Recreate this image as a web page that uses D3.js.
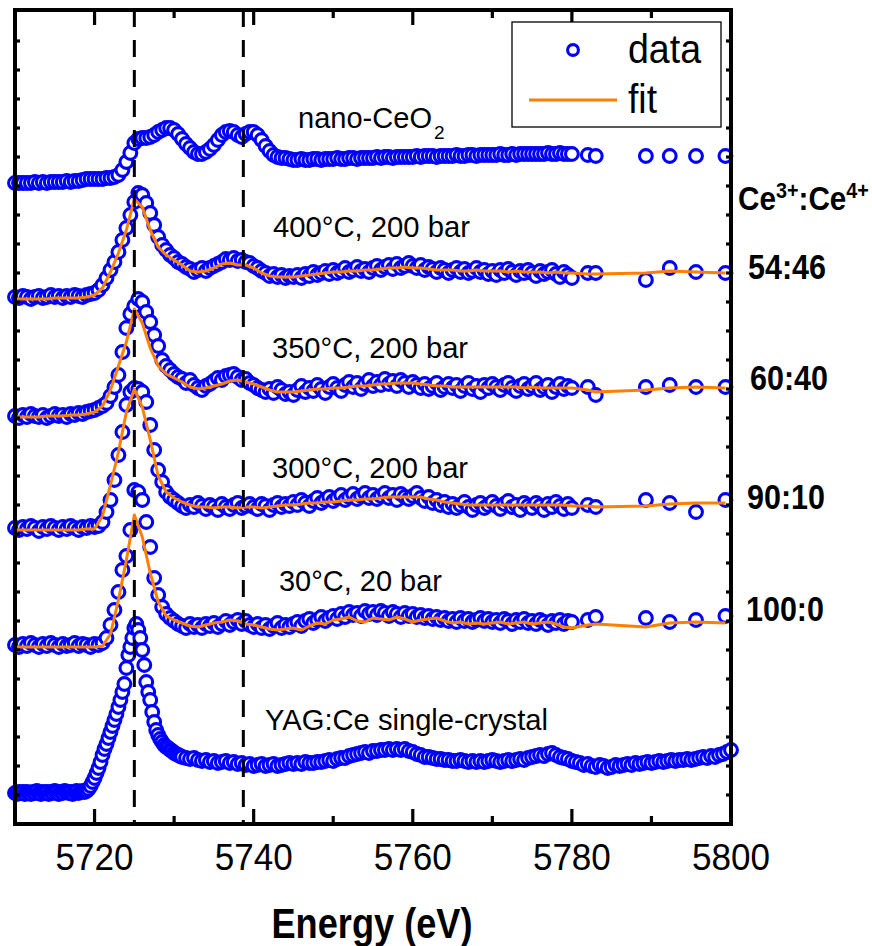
<!DOCTYPE html>
<html><head><meta charset="utf-8">
<script src="https://cdn.jsdelivr.net/npm/d3@7"></script>
<style>body{margin:0;background:#fff}svg{display:block}</style>
</head><body><svg id="c" width="872" height="946"></svg>
<script>
// ---------- axes / categories ----------
const xDomain = [5710, 5800];
const xTicksMajor = [5720, 5740, 5760, 5780, 5800];
const xTicksMinor = [5730, 5750, 5770, 5790];
const yTickStep = 0.29;
const refLines = [5725, 5738.7];
// scan grids (eV)
const denseStart = 5710, denseStep = 0.5, denseCount = 141;      // 5710 ... 5780
const fitStart = 5710, fitStep = 1, fitCount = 71;                // 5710 ... 5780
const tailEnergies = [5782, 5783, 5789.3, 5792.3, 5795.6, 5799.3];
const yagSegments = [[5710, 5719, 0.25], [5719, 5731, 0.25], [5731, 5800.01, 0.5]];

// ---------- stacking offsets ----------
const offsets = {nano: 6.41, t400: 5.27, t350: 4.08, t300: 2.96, t30: 1.79, yag: 0.31};

// ---------- data (normalised absorbance, relative to each offset) ----------
const nanoCeO2 = [0,0,0,0,0,.01,0,.01,0,.01,
.01,.01,.01,.02,.01,.02,.02,.03,.04,.04,
.04,.04,.04,.05,.05,.06,.08,.13,.21,.30,
.40,.44,.45,.45,.46,.48,.51,.53,.55,.55,
.53,.49,.44,.39,.35,.31,.29,.29,.31,.34,
.38,.43,.48,.51,.52,.51,.48,.46,.49,.51,
.51,.48,.43,.37,.32,.28,.26,.25,.25,.24,
.23,.23,.24,.23,.23,.24,.24,.23,.24,.24,
.24,.25,.24,.24,.25,.25,.24,.25,.25,.25,
.25,.26,.25,.26,.26,.25,.26,.26,.26,.26,
.26,.27,.26,.27,.27,.27,.26,.27,.27,.27,
.27,.28,.27,.27,.28,.28,.27,.28,.28,.28,
.28,.28,.29,.28,.28,.29,.28,.29,.29,.29,
.29,.29,.29,.29,.30,.29,.29,.30,.29,.29,.29];
const nanoCeO2Tail = [.28,.27,.27,.27,.27,.27];

const data400 = [0,-.01,.01,0,-.02,0,.01,-.01,0,.02,
0,.01,-.01,.01,0,.02,.01,0,.02,.03,
.04,.07,.12,.19,.27,.35,.45,.57,.69,.82,
.95,1.04,1.02,.94,.84,.72,.60,.52,.47,.42,
.39,.35,.33,.30,.28,.25,.27,.29,.26,.29,
.31,.33,.35,.38,.37,.39,.36,.37,.35,.34,
.31,.29,.26,.24,.21,.23,.20,.22,.19,.21,
.20,.22,.19,.23,.21,.25,.22,.24,.26,.23,
.27,.24,.26,.29,.25,.27,.30,.26,.28,.25,
.29,.31,.27,.30,.32,.28,.33,.29,.31,.34,
.31,.29,.32,.27,.30,.28,.25,.29,.27,.24,
.27,.29,.25,.28,.24,.26,.29,.25,.27,.23,
.26,.22,.27,.24,.28,.25,.22,.26,.24,.27,
.24,.21,.26,.23,.25,.27,.23,.20,.25,.22,.19];
const data400Tail = [.24,.24,.17,.29,.25,.24];
const fit400 = [-.02,-.02,-.02,-.02,-.02,-.01,-.01,-.01,-.01,0,
.02,.09,.25,.44,.67,.98,.90,.67,.50,.42,
.37,.32,.26,.25,.26,.29,.33,.34,.32,.32,
.29,.24,.21,.20,.20,.20,.21,.22,.23,.24,
.25,.25,.26,.26,.27,.27,.28,.29,.29,.30,
.29,.29,.28,.27,.27,.27,.26,.26,.27,.26,
.26,.26,.25,.26,.25,.25,.25,.24,.25,.24,.24];
const fit400Tail = [.23,.23,.24,.26,.25,.24];

const data350 = [0,-.02,.01,-.01,.02,0,-.01,.01,-.02,0,
.02,0,.01,-.01,.02,.01,.03,.02,.04,.05,
.06,.08,.10,.13,.20,.29,.41,.64,.88,1.02,
1.10,1.17,1.14,1.04,.94,.81,.70,.56,.50,.46,
.42,.39,.37,.33,.36,.31,.28,.26,.30,.32,
.35,.38,.36,.40,.41,.42,.39,.36,.37,.33,
.31,.28,.26,.24,.27,.23,.29,.26,.22,.24,
.21,.26,.30,.24,.28,.25,.31,.27,.23,.29,
.32,.28,.25,.31,.34,.29,.33,.27,.32,.36,
.30,.34,.31,.37,.32,.35,.30,.36,.33,.29,
.34,.31,.28,.32,.27,.30,.33,.26,.29,.32,
.28,.31,.25,.30,.33,.27,.30,.24,.31,.28,
.32,.29,.26,.31,.33,.28,.25,.30,.32,.27,
.30,.33,.26,.29,.31,.24,.29,.32,.27,.30,.28];
const data350Tail = [.29,.21,.29,.31,.29,.29];
const fit350 = [-.01,-.01,-.01,-.01,0,0,0,.01,.01,.02,
.04,.10,.26,.50,.74,1.07,.93,.68,.50,.42,
.38,.34,.29,.27,.28,.30,.32,.35,.36,.34,
.32,.29,.26,.24,.24,.24,.25,.26,.27,.27,
.28,.28,.29,.30,.30,.31,.32,.32,.33,.33,
.33,.32,.31,.30,.30,.29,.29,.29,.29,.29,
.29,.29,.29,.29,.28,.29,.28,.28,.28,.28,.28];
const fit350Tail = [.26,.24,.26,.28,.29,.28];

const data300 = [0,-.02,.01,-.01,.02,0,-.03,.01,-.01,.02,
0,-.02,.01,-.01,.02,0,-.02,.01,0,.02,
.01,.02,.06,.16,.28,.48,.73,.96,1.23,1.36,
1.40,1.39,1.36,1.26,1.03,.78,.58,.46,.36,.31,
.28,.25,.22,.20,.23,.21,.25,.22,.19,.23,
.21,.18,.24,.21,.19,.23,.25,.20,.22,.24,
.21,.19,.24,.22,.18,.23,.25,.21,.24,.22,
.26,.23,.28,.25,.22,.27,.30,.25,.28,.31,
.27,.30,.33,.28,.31,.34,.29,.32,.35,.30,
.33,.29,.32,.35,.30,.33,.28,.34,.31,.29,
.32,.35,.30,.27,.31,.25,.28,.23,.26,.21,
.24,.20,.23,.26,.21,.18,.23,.25,.20,.23,
.26,.22,.19,.24,.27,.21,.23,.18,.25,.22,
.20,.25,.22,.18,.24,.21,.26,.22,.19,.24,.20];
const data300Tail = [.23,.21,.28,.25,.16,.28];
const fit300 = [-.02,-.02,-.02,-.02,-.02,-.02,-.02,-.02,-.02,-.01,
-.01,.12,.43,.76,1.16,1.39,1.21,.88,.52,.36,
.30,.26,.23,.21,.21,.20,.21,.21,.20,.21,
.21,.20,.21,.22,.23,.23,.24,.25,.25,.26,
.26,.27,.28,.28,.29,.29,.30,.31,.31,.31,
.31,.31,.29,.28,.26,.25,.24,.23,.23,.23,
.23,.23,.23,.23,.23,.23,.23,.23,.23,.23,.22];
const fit300Tail = [.22,.21,.22,.24,.25,.25];

const data30 = [0,-.02,.01,-.01,.02,0,-.02,.01,-.01,.02,
0,-.02,.01,-.01,0,.02,-.01,.01,0,-.02,
.01,0,.02,.07,.20,.35,.53,.75,.89,1.15,
1.55,1.53,1.45,1.23,.98,.67,.50,.38,.31,.27,
.24,.21,.19,.17,.21,.18,.20,.17,.21,.19,
.22,.18,.21,.24,.20,.23,.25,.21,.24,.20,
.18,.21,.17,.20,.16,.19,.22,.17,.20,.18,
.21,.23,.19,.24,.26,.22,.25,.28,.24,.27,
.29,.26,.31,.28,.33,.30,.32,.29,.34,.31,
.33,.30,.34,.32,.29,.33,.31,.28,.32,.29,
.31,.28,.30,.27,.29,.26,.28,.25,.27,.24,
.26,.23,.27,.24,.26,.23,.25,.27,.24,.26,
.23,.25,.22,.26,.24,.21,.25,.23,.26,.22,
.24,.21,.25,.23,.20,.24,.22,.25,.21,.24,.23];
const data30Tail = [.25,.28,.27,.23,.25,.29];
const fit30 = [-.02,-.02,-.02,-.02,-.02,-.02,-.02,-.02,-.02,-.02,
-.02,-.01,.11,.45,.85,1.30,1.08,.72,.43,.29,
.25,.22,.19,.18,.20,.22,.23,.25,.24,.21,
.20,.18,.16,.15,.16,.17,.15,.19,.22,.21,
.25,.26,.28,.24,.23,.27,.26,.25,.28,.26,
.23,.25,.26,.27,.24,.22,.23,.21,.22,.21,
.22,.23,.21,.22,.23,.21,.22,.23,.21,.18,.17];
const fit30Tail = [.20,.21,.18,.22,.23,.22];

const dataYAG = [0,-.01,.01,0,.01,-.01,.01,0,-.01,.01,0,.02,0,-.01,.01,0,.01,-.01,
.01,0,.02,.01,-.01,.01,0,.02,.01,0,.01,-.01,.01,.02,0,.01,.02,.01,
.02,.04,.07,.11,.15,.20,.25,.31,.38,.44,.49,.55,.61,.67,.73,.79,.86,.93,1.01,1.09,
1.25,1.38,1.46,1.55,1.65,1.69,1.63,1.55,1.43,1.28,1.11,1.01,.93,.81,.71,.63,.58,.54,
.51,.48,.46,.45,.43,.42,.40,.39,.38,.37,
.36,.35,.34,.35,.33,.32,.33,.31,.32,.30,.31,.32,.30,.31,.29,.30,.28,.29,.27,.28,
.29,.27,.28,.29,.27,.28,.29,.30,.29,.30,.29,.31,.30,.30,.31,.31,.32,.33,.32,.34,
.35,.35,.37,.38,.39,.40,.41,.40,.42,.42,.43,.43,.44,.43,.44,.43,.44,.42,.41,.39,
.38,.36,.36,.35,.34,.34,.33,.33,.32,.32,.33,.32,.31,.32,.31,.32,.31,.32,.33,.32,
.31,.32,.33,.32,.33,.34,.33,.35,.36,.37,.38,.37,.39,.40,.38,.36,.35,.34,.32,.31,
.30,.28,.29,.27,.26,.28,.27,.25,.26,.28,.27,.28,.29,.28,.30,.29,.30,.31,.30,.31,
.32,.31,.32,.33,.32,.33,.33,.34,.33,.34,.35,.36,.35,.37,.36,.38,.39,.41,.43];

// ---------- labels ----------
const sampleLabels = ["400°C, 200 bar", "350°C, 200 bar", "300°C, 200 bar", "30°C, 20 bar", "YAG:Ce single-crystal"];
const ratioLabels = ["54:46", "60:40", "90:10", "100:0"];

// ---------- build ----------
const denseE = d3.range(denseCount).map(i => denseStart + denseStep * i).concat(tailEnergies);
const fitE = d3.range(fitCount).map(i => fitStart + fitStep * i).concat(tailEnergies);
const yagE = [].concat(...yagSegments.map(s => d3.range(s[0], s[1], s[2])));

const x = d3.scaleLinear().domain(xDomain).range([15, 731]);
const y = d3.scaleLinear().domain([0, 8.14]).range([824, 10]);
const svg = d3.select("#c");
const FONT = "'Liberation Sans', Arial, Helvetica, sans-serif";
const BLUE = "#0000ff", ORANGE = "#ff8000";
const R = 6.4, SW = 3.1;

function pts(E, vals, off) { return vals.map((v, i) => [E[i], v + off]); }

const seriesList = [
  {data: pts(denseE, nanoCeO2.concat(nanoCeO2Tail), offsets.nano)},
  {data: pts(denseE, data400.concat(data400Tail), offsets.t400), fit: pts(fitE, fit400.concat(fit400Tail), offsets.t400)},
  {data: pts(denseE, data350.concat(data350Tail), offsets.t350), fit: pts(fitE, fit350.concat(fit350Tail), offsets.t350)},
  {data: pts(denseE, data300.concat(data300Tail), offsets.t300), fit: pts(fitE, fit300.concat(fit300Tail), offsets.t300)},
  {data: pts(denseE, data30.concat(data30Tail), offsets.t30), fit: pts(fitE, fit30.concat(fit30Tail), offsets.t30)},
  {data: pts(yagE, dataYAG, offsets.yag)}
];

const line = d3.line().x(d => x(d[0])).y(d => y(d[1]));
const gData = svg.append("g");
seriesList.forEach(s => {
  const g = gData.append("g");
  g.selectAll("circle").data(s.data).join("circle")
    .attr("cx", d => x(d[0])).attr("cy", d => y(d[1])).attr("r", R)
    .attr("fill", "#fff").attr("stroke", BLUE).attr("stroke-width", SW);
  if (s.fit) {
    g.append("path").datum(s.fit).attr("d", line)
      .attr("fill", "none").attr("stroke", ORANGE).attr("stroke-width", 3).attr("stroke-linejoin", "round");
  }
});

// dashed reference lines
svg.append("g").selectAll("line").data(refLines).join("line")
  .attr("x1", d => x(d)).attr("x2", d => x(d)).attr("y1", y(8.14)).attr("y2", y(0))
  .attr("stroke", "#000").attr("stroke-width", 3).attr("stroke-dasharray", "17,13");

// axes
const gAx = svg.append("g");
const yTicks = d3.range(1, 29).map(k => k * yTickStep).filter(v => v < 8.12);
function tickLines(vals, len, isX) {
  vals.forEach(v => {
    if (isX) {
      gAx.append("line").attr("x1", x(v)).attr("x2", x(v)).attr("y1", y(0)).attr("y2", y(0) - len);
      gAx.append("line").attr("x1", x(v)).attr("x2", x(v)).attr("y1", y(8.14)).attr("y2", y(8.14) + len);
    } else {
      gAx.append("line").attr("x1", x(5710)).attr("x2", x(5710) + len).attr("y1", y(v)).attr("y2", y(v));
      gAx.append("line").attr("x1", x(5800)).attr("x2", x(5800) - len).attr("y1", y(v)).attr("y2", y(v));
    }
  });
}
tickLines(xTicksMajor, 15, true);
tickLines(xTicksMinor, 8, true);
tickLines(yTicks, 5, false);
gAx.selectAll("line").attr("stroke", "#000").attr("stroke-width", 3.2);
gAx.append("rect").attr("x", x(5710)).attr("y", y(8.14)).attr("width", x(5800) - x(5710)).attr("height", y(0) - y(8.14))
  .attr("fill", "none").attr("stroke", "#000").attr("stroke-width", 4);

// tick labels
svg.append("g").selectAll("text").data(xTicksMajor).join("text")
  .attr("x", d => x(d)).attr("y", 870).attr("text-anchor", "middle")
  .attr("font-family", FONT).attr("font-size", 37).attr("textLength", 78).attr("lengthAdjust", "spacingAndGlyphs")
  .text(d => d);

svg.append("text").attr("x", 372).attr("y", 938).attr("text-anchor", "middle")
  .attr("font-family", FONT).attr("font-size", 42).attr("font-weight", "bold")
  .attr("textLength", 201).attr("lengthAdjust", "spacingAndGlyphs").text("Energy (eV)");

// sample labels
const labelPos = [[273, 237, 197], [272, 358, 196], [272, 478, 196], [279, 591, 163], [265, 730, 283]];
sampleLabels.forEach((t, i) => {
  svg.append("text").attr("x", labelPos[i][0]).attr("y", labelPos[i][1])
    .attr("font-family", FONT).attr("font-size", 30)
    .attr("textLength", labelPos[i][2]).attr("lengthAdjust", "spacingAndGlyphs").text(t);
});
svg.append("text").attr("x", 298).attr("y", 128).attr("font-family", FONT).attr("font-size", 29)
  .attr("textLength", 134).attr("lengthAdjust", "spacingAndGlyphs").text("nano-CeO");
svg.append("text").attr("x", 434).attr("y", 139).attr("font-family", FONT).attr("font-size", 19).text("2");

// ratio labels
const ratioPos = [[748, 279], [750, 390], [747, 509], [746, 621]];
ratioLabels.forEach((t, i) => {
  svg.append("text").attr("x", ratioPos[i][0]).attr("y", ratioPos[i][1])
    .attr("font-family", FONT).attr("font-size", 35).attr("font-weight", "bold")
    .attr("textLength", 78).attr("lengthAdjust", "spacingAndGlyphs").text(t);
});
const ce = svg.append("g").attr("transform", "translate(738,210) scale(0.9,1)")
  .append("text").attr("font-family", FONT).attr("font-weight", "bold").attr("font-size", 33);
ce.append("tspan").text("Ce");
ce.append("tspan").attr("font-size", 22).attr("dy", -12).text("3+");
ce.append("tspan").attr("dy", 12).text(":Ce");
ce.append("tspan").attr("font-size", 22).attr("dy", -12).text("4+");

// legend
const lg = svg.append("g");
lg.append("rect").attr("x", 512).attr("y", 22).attr("width", 209).attr("height", 105)
  .attr("fill", "#fff").attr("stroke", "#000").attr("stroke-width", 1.3);
lg.append("circle").attr("cx", 573).attr("cy", 50).attr("r", 5.4)
  .attr("fill", "#fff").attr("stroke", BLUE).attr("stroke-width", SW);
lg.append("line").attr("x1", 529).attr("x2", 617).attr("y1", 100).attr("y2", 100)
  .attr("stroke", ORANGE).attr("stroke-width", 3.2);
lg.append("text").attr("x", 628).attr("y", 63).attr("font-family", FONT).attr("font-size", 40)
  .attr("textLength", 73).attr("lengthAdjust", "spacingAndGlyphs").text("data");
lg.append("text").attr("x", 628).attr("y", 113).attr("font-family", FONT).attr("font-size", 40)
  .attr("textLength", 29).attr("lengthAdjust", "spacingAndGlyphs").text("fit");
</script>
</body></html>
